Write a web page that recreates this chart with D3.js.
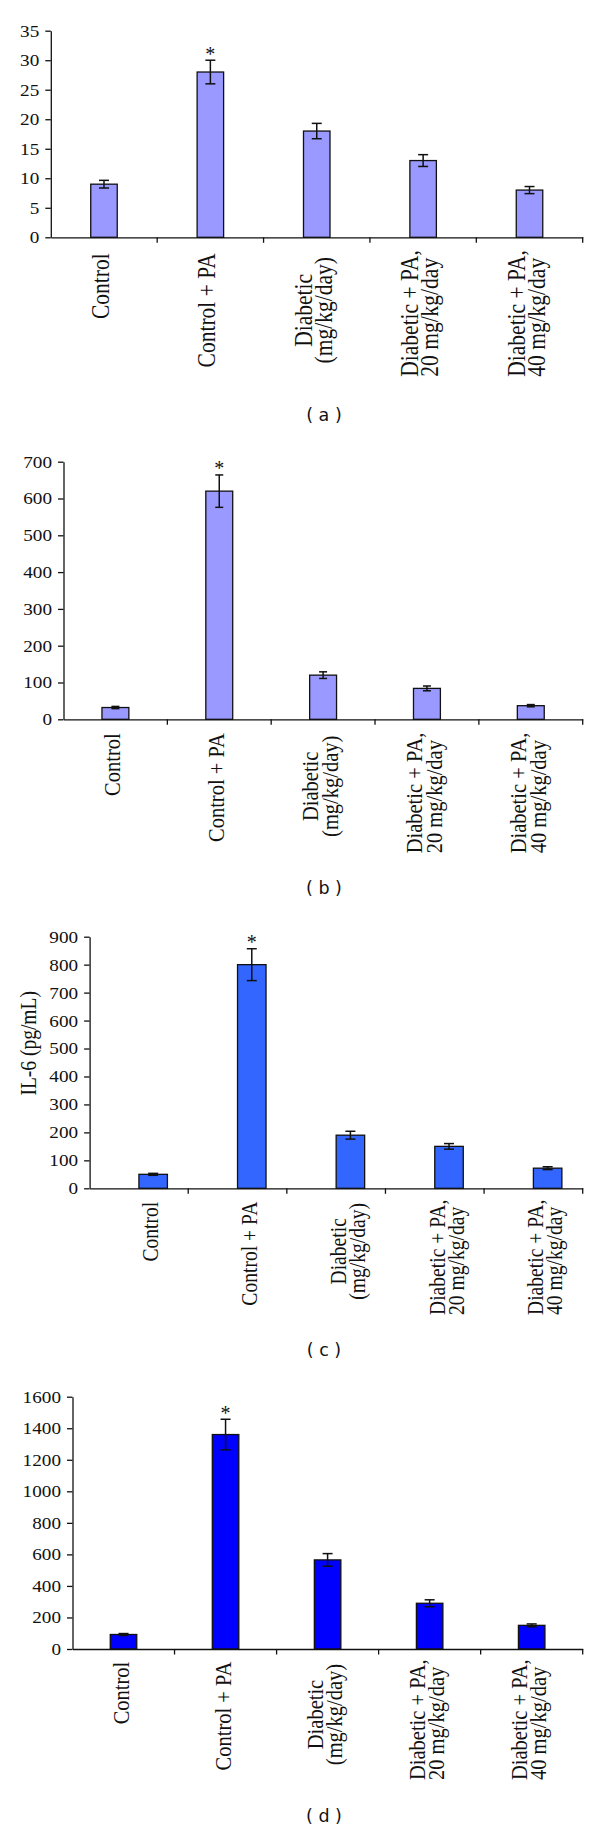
<!DOCTYPE html>
<html><head><meta charset="utf-8">
<script src="https://cdn.jsdelivr.net/npm/d3@7"></script>
<style>html,body{margin:0;padding:0;background:#fff}</style>
</head><body><svg id="chart" width="600" height="1832"></svg>
<script>
// ---------- data ----------
const categories = [["Control"], ["Control + PA"], ["Diabetic", "(mg/kg/day)"], ["Diabetic + PA,", "20 mg/kg/day"], ["Diabetic + PA,", "40 mg/kg/day"]];
const significance = ["", "*", "", "", ""];

const valuesA = [9, 28, 18, 13, 8];
const errorsA = [0.65, 2, 1.3, 1, 0.6];
const ticksA = [0, 5, 10, 15, 20, 25, 30, 35];

const valuesB = [32, 620, 120, 84, 37];
const errorsB = [3, 44, 9, 6.5, 3];
const ticksB = [0, 100, 200, 300, 400, 500, 600, 700];

const valuesC = [50, 800, 190, 150, 72];
const errorsC = [3.5, 57, 14, 10, 5];
const ticksC = [0, 100, 200, 300, 400, 500, 600, 700, 800, 900];

const valuesD = [92, 1360, 565, 290, 150];
const errorsD = [6, 97, 40, 22, 9];
const ticksD = [0, 200, 400, 600, 800, 1000, 1200, 1400, 1600];

const panelCaptions = ["( a )", "( b )", "( c )", "( d )"];
const yTitleC = "IL-6 (pg/mL)";

// ---------- layout ----------
const SERIF = "'Liberation Serif', 'Times New Roman', serif";
const SANS = "'DejaVu Sans', Verdana, sans-serif";
const SX = 1.13; // horizontal stretch of the original artwork's text
const catAnchor = ["end", "end", "middle", "start", "start"];
const CAPTION_X = 324;

const panels = [
  {values: valuesA, errors: errorsA, ticks: ticksA, caption: panelCaptions[0],
   x0: 50.8, x1: 582.7, y0: 237.3, yTop: 30.7, color: "#9999FF", barW: 26.5, barShift: 0, capW: 10,
   catFont: 21.5, catOffsets: [16, 16, 73, 139.4, 139.4], lineGap: 20, captionY: 415},
  {values: valuesB, errors: errorsB, ticks: ticksB, caption: panelCaptions[1],
   x0: 63.5, x1: 582.7, y0: 719.3, yTop: 461.7, color: "#9999FF", barW: 26.9, barShift: 0, capW: 8,
   catFont: 20.5, catOffsets: [14, 14, 67, 134, 134], lineGap: 19.5, captionY: 888.3},
  {values: valuesC, errors: errorsC, ticks: ticksC, caption: panelCaptions[2], title: yTitleC,
   x0: 89.6, x1: 582.7, y0: 1188.3, yTop: 936.7, color: "#3366FF", barW: 28.5, barShift: 1, capW: 10,
   catFont: 19.6, catOffsets: [13.4, 13.4, 63, 126.7, 126.7], lineGap: 19, captionY: 1350,
   titleX: 36, titleY: 1043.3},
  {values: valuesD, errors: errorsD, ticks: ticksD, caption: panelCaptions[3],
   x0: 72.5, x1: 582.7, y0: 1649, yTop: 1396.7, color: "#0000FF", barW: 26.5, barShift: 0, capW: 10,
   catFont: 20.5, catOffsets: [12.7, 12.7, 65.5, 131, 131], lineGap: 19.5, captionY: 1816.7}
];

const svg = d3.select("#chart");
svg.append("rect").attr("width", 600).attr("height", 1832).attr("fill", "#fff");

panels.forEach(p => {
  const g = svg.append("g");
  const idx = categories.map((d, i) => i);
  const x = d3.scaleBand().domain(idx).range([p.x0, p.x1]).paddingInner(0).paddingOuter(0);
  const tickMax = p.ticks[p.ticks.length - 1];
  const y = d3.scaleLinear().domain([0, tickMax]).range([p.y0, p.yTop]);
  const bw = x.bandwidth();
  const cx = i => x(i) + bw / 2 + (p.barShift ? p.barW / 2 : 0);

  // bars
  g.selectAll("rect.bar").data(p.values).join("rect")
    .attr("class", "bar")
    .attr("x", (d, i) => cx(i) - p.barW / 2)
    .attr("y", d => y(d))
    .attr("width", p.barW)
    .attr("height", d => y(0) - y(d))
    .attr("fill", p.color)
    .attr("stroke", "#111")
    .attr("stroke-width", 1.3);

  // error bars
  const eg = g.selectAll("g.err").data(p.values).join("g").attr("class", "err")
    .attr("stroke", "#111").attr("stroke-width", 1.5).attr("fill", "none");
  eg.append("line")
    .attr("x1", (d, i) => cx(i)).attr("x2", (d, i) => cx(i))
    .attr("y1", (d, i) => y(d + p.errors[i])).attr("y2", (d, i) => y(d - p.errors[i]));
  eg.append("line")
    .attr("x1", (d, i) => cx(i) - p.capW / 2).attr("x2", (d, i) => cx(i) + p.capW / 2)
    .attr("y1", (d, i) => y(d + p.errors[i])).attr("y2", (d, i) => y(d + p.errors[i]));
  eg.append("line")
    .attr("x1", (d, i) => cx(i) - p.capW / 2).attr("x2", (d, i) => cx(i) + p.capW / 2)
    .attr("y1", (d, i) => y(d - p.errors[i])).attr("y2", (d, i) => y(d - p.errors[i]));

  // significance markers
  g.selectAll("text.sig").data(p.values).join("text")
    .attr("class", "sig")
    .attr("x", (d, i) => cx(i))
    .attr("y", (d, i) => y(d + p.errors[i]) + 0.5)
    .attr("text-anchor", "middle")
    .attr("font-family", SERIF).attr("font-size", 20).attr("fill", "#111")
    .text((d, i) => significance[i]);

  // y axis
  const ya = g.append("g").attr("transform", `translate(${p.x0},0)`)
    .call(d3.axisLeft(y).tickValues(p.ticks).tickSize(5.5).tickSizeOuter(0).tickPadding(6).tickFormat(d3.format("d")));
  ya.selectAll("path,line").attr("stroke", "#111").attr("stroke-width", 1.3);
  ya.selectAll("text")
    .attr("font-family", SERIF).attr("font-size", 17).attr("fill", "#111")
    .attr("x", -11.5 / SX).attr("transform", `scale(${SX},1)`);

  // x axis
  const xa = g.append("g").attr("transform", `translate(0,${p.y0})`)
    .call(d3.axisBottom(x).tickValues([]).tickSizeOuter(0));
  xa.selectAll("path").attr("stroke", "#111").attr("stroke-width", 1.3);
  g.selectAll("line.bound").data(idx).join("line").attr("class", "bound")
    .attr("x1", i => x(i) + bw).attr("x2", i => x(i) + bw)
    .attr("y1", p.y0).attr("y2", p.y0 + 5.5)
    .attr("stroke", "#111").attr("stroke-width", 1.3);

  // category labels (rotated)
  categories.forEach((lines, i) => {
    const n = lines.length;
    lines.forEach((t, j) => {
      const bx = cx(i) + 5 + (j - (n - 1) / 2) * p.lineGap;
      const by = p.y0 + p.catOffsets[i];
      g.append("text")
        .attr("transform", `translate(${bx},${by}) scale(${SX},1) rotate(-90)`)
        .attr("text-anchor", catAnchor[i])
        .attr("font-family", SERIF).attr("font-size", p.catFont).attr("fill", "#111")
        .text(t);
    });
  });

  // y title
  if (p.title) {
    g.append("text")
      .attr("transform", `translate(${p.titleX},${p.titleY}) scale(${SX},1) rotate(-90)`)
      .attr("text-anchor", "middle")
      .attr("font-family", SERIF).attr("font-size", 19.5).attr("fill", "#111")
      .text(p.title);
  }

  // panel caption
  g.append("text")
    .attr("x", CAPTION_X)
    .attr("y", p.captionY + 5.5)
    .attr("text-anchor", "middle")
    .attr("font-family", SANS).attr("font-size", 17.5).attr("fill", "#111")
    .text(p.caption);
});
</script>
</body></html>
